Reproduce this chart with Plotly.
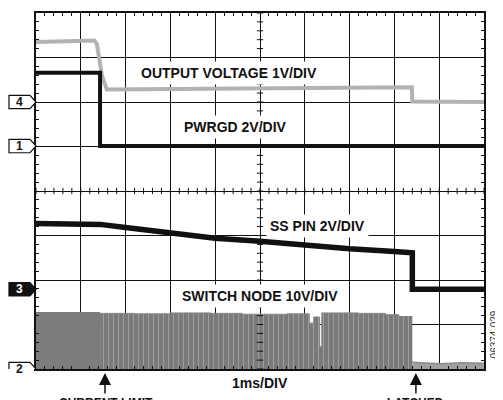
import plotly.graph_objects as go

# ---- data (x in ms-divisions, y in vertical divisions of the scope screen) ----
out_t = [0.0, 0.6, 1.30, 1.36, 1.47, 1.58, 3.0, 5.0, 7.0, 8.39, 8.40, 10.0]
out_v = [7.35, 7.37, 7.38, 7.30, 6.60, 6.28, 6.29, 6.31, 6.32, 6.33, 6.01, 6.00]

pg_t = [0.0, 1.43, 1.43, 10.0]
pg_v = [6.66, 6.66, 5.01, 5.01]

ss_t = [0.0, 1.0, 1.43, 2.0, 3.0, 4.0, 5.0, 6.0, 7.0, 8.0, 8.40, 8.40, 10.0]
ss_v = [3.27, 3.26, 3.25, 3.18, 3.05, 2.94, 2.87, 2.77, 2.70, 2.64, 2.61, 1.79, 1.79]

sw_solid_t = [0.0, 1.43]
sw_solid_v = [1.27, 1.27]

sw_t = [1.43, 2.2, 3.0, 3.9, 4.6, 5.6, 6.1, 6.2, 6.33, 6.38, 7.2, 7.8, 8.1, 8.40]
sw_v = [1.25, 1.24, 1.26, 1.25, 1.23, 1.24, 1.03, 1.17, 0.50, 1.26, 1.25, 1.22, 1.18, 1.18]

sw_off_t = [8.40, 9.0, 9.5, 10.0]
sw_off_v = [0.15, 0.12, 0.14, 0.13]

channels = ["4", "1", "3", "2"]
channel_levels = [6.0, 5.01, 1.79, 0.0]

fig = go.Figure()

# switch node
fig.add_trace(go.Scatter(x=sw_solid_t, y=sw_solid_v, mode="lines", line=dict(color="#7c7c7c", width=1, shape="hv"),
                         fill="tozeroy", fillcolor="#7c7c7c", hoverinfo="skip"))
fig.add_trace(go.Scatter(x=sw_t, y=sw_v, mode="lines", line=dict(color="#858585", width=1, shape="hv"),
                         fill="tozeroy", fillcolor="#7a7a7a",
                         fillpattern=dict(shape="|", fgcolor="#f2f2f2", bgcolor="#7a7a7a", size=5, solidity=0.12),
                         hoverinfo="skip"))
fig.add_trace(go.Scatter(x=sw_off_t, y=sw_off_v, mode="lines", line=dict(color="#8a8a8a", width=1.5),
                         fill="tozeroy", fillcolor="#a0a0a0", hoverinfo="skip"))

# output voltage (gray)
fig.add_trace(go.Scatter(x=out_t, y=out_v, mode="lines", line=dict(color="#b2b2b2", width=4), hoverinfo="skip"))
# PWRGD
fig.add_trace(go.Scatter(x=pg_t, y=pg_v, mode="lines", line=dict(color="#111111", width=4), hoverinfo="skip"))
# SS pin
fig.add_trace(go.Scatter(x=ss_t, y=ss_v, mode="lines", line=dict(color="#111111", width=5.5), hoverinfo="skip"))

shapes = []
# center-line crossing ticks
for i in range(51):
    x = i * 0.2
    shapes.append(dict(type="line", xref="x", yref="y", x0=x, x1=x, y0=3.93, y1=4.07,
                       line=dict(color="#111", width=1)))
for i in range(41):
    y = i * 0.2
    shapes.append(dict(type="line", xref="x", yref="y", x0=4.93, x1=5.07, y0=y, y1=y,
                       line=dict(color="#111", width=1)))

# channel markers
for ch, lvl in zip(channels, channel_levels):
    h = 0.15
    path = (f"M -0.0603,{lvl - h} L -0.0134,{lvl - h} L 0,{lvl} "
            f"L -0.0134,{lvl + h} L -0.0603,{lvl + h} Z")
    filled = ch == "3"
    shapes.append(dict(type="path", xref="paper", yref="y", path=path,
                       fillcolor="#111" if filled else "white",
                       line=dict(color="#111", width=1.2)))

annotations = []
for ch, lvl in zip(channels, channel_levels):
    annotations.append(dict(x=-0.037, y=lvl, xref="paper", yref="y", text=f"<b>{ch}</b>", showarrow=False,
                            xanchor="center", font=dict(family="Liberation Sans", size=12,
                                                        color="white" if ch == "3" else "#111")))

lab_font = dict(family="Liberation Sans", size=14, color="#111")
labels = [
    ("OUTPUT VOLTAGE 1V/DIV", 4.3, 6.66),
    ("PWRGD 2V/DIV", 4.46, 5.43),
    ("SS PIN 2V/DIV", 6.29, 3.21),
    ("SWITCH NODE 10V/DIV", 5.0, 1.63),
]
for txt, x, y in labels:
    annotations.append(dict(x=x, y=y, xref="x", yref="y", text=f"<b>{txt}</b>", showarrow=False,
                            xanchor="center", font=lab_font, bgcolor="white", borderpad=3))

# items below the plot area use paper coordinates (1 division = 1/8 of the height)
annotations.append(dict(x=0.5, y=-0.31 / 8, xref="paper", yref="paper", text="<b>1ms/DIV</b>",
                        showarrow=False, xanchor="center", yanchor="middle", font=lab_font))
for x in [1.54, 8.48]:
    annotations.append(dict(x=x / 10, y=-0.09 / 8, xref="paper", yref="paper", text="", showarrow=True,
                            ax=0, ay=22, arrowhead=2, arrowsize=1.6, arrowwidth=1.5, arrowcolor="#111"))
annotations.append(dict(x=0.156, y=-0.77 / 8, xref="paper", yref="paper", text="<b>CURRENT LIMIT</b>",
                        showarrow=False, xanchor="center", yanchor="middle",
                        font=dict(family="Liberation Sans", size=12, color="#111")))
annotations.append(dict(x=0.848, y=-0.77 / 8, xref="paper", yref="paper", text="<b>LATCHED</b>",
                        showarrow=False, xanchor="center", yanchor="middle",
                        font=dict(family="Liberation Sans", size=12, color="#111")))
annotations.append(dict(x=1.023, y=0.098, xref="paper", yref="paper", text="06374-029", showarrow=False,
                        xanchor="center", yanchor="middle", textangle=-90,
                        font=dict(family="Liberation Sans", size=10, color="#333")))

axis_common = dict(showgrid=True, gridcolor="#111", gridwidth=1.2, zeroline=False,
                   showline=True, linecolor="#111", linewidth=2, mirror="allticks",
                   ticks="inside", ticklen=0, showticklabels=False, dtick=1,
                   minor=dict(ticks="inside", dtick=0.2, ticklen=3, tickcolor="#111", tickwidth=1, showgrid=False),
                   fixedrange=True)

# the page body adds an 8px margin, so the figure is 8px smaller and margins shifted
fig.update_layout(
    width=495, height=392,
    margin=dict(l=28, r=19, t=3, b=31),
    paper_bgcolor="white", plot_bgcolor="white",
    showlegend=False,
    xaxis=dict(range=[0, 10], **axis_common),
    yaxis=dict(range=[0, 8], **axis_common),
    shapes=shapes,
    annotations=annotations,
)

fig.write_html("out.html")
